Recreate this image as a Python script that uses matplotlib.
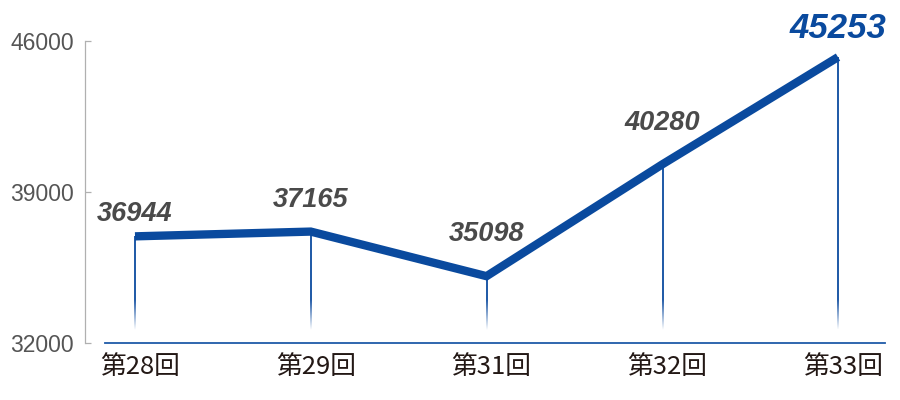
import numpy as np
import matplotlib.pyplot as plt
import matplotlib.transforms as mtransforms

# data
rounds = ['第28回', '第29回', '第31回', '第32回', '第33回']
values = [36944, 37165, 35098, 40280, 45253]
yticks = [32000, 39000, 46000]

BLUE = '#0a4a9e'
GRAY_TXT = '#4a4a4a'
label_dy = [22, 32, 42, 41, 29]   # pixels above the point

plt.rcParams['font.family'] = ['Liberation Sans', 'DejaVu Sans']

fig = plt.figure(figsize=(9, 4), dpi=100)
ax = fig.add_axes([85 / 900, 1 - 343 / 400, 800 / 900, 302 / 400])

x = np.arange(len(values))
px = 1 / 175.75   # one pixel in x data units

# thin drop lines fading out towards the bottom (gradient image)
fade_top, fade_bot = 34000, 32600
for xi, v in zip(x, values):
    ys = np.linspace(v, fade_bot, 300)
    alpha = np.clip((ys - fade_bot) / (fade_top - fade_bot), 0, 1)
    img = np.zeros((len(ys), 1, 4))
    img[..., 0], img[..., 1], img[..., 2] = 0.04, 0.29, 0.62
    img[:, 0, 3] = alpha * 0.9
    ax.imshow(img, extent=[xi - 0.6 * px, xi + 0.6 * px, fade_bot, v],
              aspect='auto', interpolation='bilinear', origin='upper', zorder=2)

ax.plot(x, values, color=BLUE, lw=6, solid_capstyle='butt',
        solid_joinstyle='miter', zorder=3)

for i, (xi, v) in enumerate(zip(x, values)):
    last = i == len(values) - 1
    ax.annotate(f'{v}', (xi, v), xytext=(0, label_dy[i]), textcoords='offset pixels',
                ha='center', va='center', fontsize=25 if last else 19.5,
                fontweight='bold', fontstyle='italic',
                color=BLUE if last else GRAY_TXT, zorder=4)

# axes styling
ax.set_xlim((85 - 135) * px, (885 - 135) * px)
ax.set_ylim(32000, 46000)
for s in ['top', 'right', 'bottom']:
    ax.spines[s].set_visible(False)
ax.spines['left'].set_color('#b0b0b0')
ax.spines['left'].set_linewidth(0.9)
ax.axhline(32000, xmin=20 / 800, xmax=1, color='#1f5aa8', lw=1.3, clip_on=False)

ax.set_yticks(yticks)
ax.set_yticklabels([str(t) for t in yticks])
ax.tick_params(axis='y', direction='in', length=4.5, width=0.9, color='#b0b0b0',
               labelsize=16.5, labelcolor='#555555', pad=8)

ax.set_xticks(x)
ax.set_xticklabels(rounds, family=['Noto Sans CJK JP', 'DejaVu Sans'],
                   fontsize=18.5, color='#231815')
ax.tick_params(axis='x', length=0, pad=8)
shift = mtransforms.ScaledTranslation(5 / 100, 0, fig.dpi_scale_trans)
for lab in ax.get_xticklabels():
    lab.set_transform(lab.get_transform() + shift)

fig.savefig('out.png', dpi=100)
